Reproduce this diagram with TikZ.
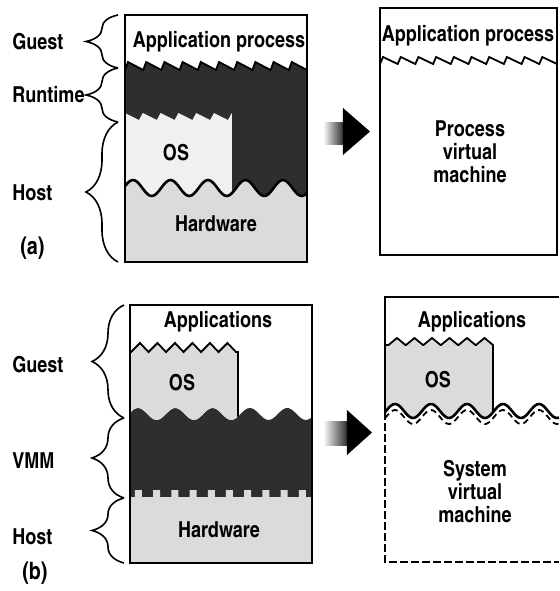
\documentclass[tikz,border=0pt]{standalone}
\usepackage{fontspec}
\setmainfont{texgyreheroscn}[Extension=.otf, UprightFont=*-regular, BoldFont=*-bold,
  ItalicFont=*-italic, BoldItalicFont=*-bolditalic]
\usepackage{tikz}
\usetikzlibrary{decorations.pathreplacing}

\colorlet{vmdark}{black!82}
\colorlet{vmlight}{black!14}
\colorlet{vmpale}{black!6}

\begin{document}
\begin{tikzpicture}[x=0.5pt, y=-0.5pt,
  font=\bfseries\fontsize{11}{11.5}\selectfont,
  declare function={wa(\x)=188-8*cos(9.6*(\x-133));
    wb(\x)=414-6*cos(9.65*(\x-138));
    wc(\x)=411-7*cos(10*(\x-395));},
  layer/.style={align=center, inner sep=1pt},
  side/.style={anchor=west, inner sep=0pt},
  tag/.style={side, font=\bfseries\fontsize{12}{14}\selectfont},
  brc/.style={decorate, decoration={brace, amplitude=16pt}, line width=0.8pt},
  frame/.style={line width=1pt},
  wave/.style={line width=1.3pt},
  teeth/.style={line width=0.9pt}
]
  \useasboundingbox (0,0) rectangle (559,591);

  % (a) process virtual machine
  \fill[vmdark] (125,70) \foreach \i in {0,...,9} { -- ++(3,-8) -- ++(15.2,8) }
    -- plot[domain=307:125, samples=80] (\x,{wa(\x)}) -- cycle;
  \fill[vmlight] plot[domain=125:307, samples=80] (\x,{wa(\x)})
    -- (307,262) -- (125,262) -- cycle;
  \fill[vmpale] (125,113) \foreach \i in {0,...,5} { -- ++(14,7) -- ++(3.8,-7) }
    -- (232,{wa(232)}) -- plot[domain=232:125, samples=50] (\x,{wa(\x)}) -- cycle;
  \draw[teeth] (125,70) \foreach \i in {0,...,9} { -- ++(3,-8) -- ++(15.2,8) };
  \draw[wave] plot[domain=125:307, samples=80] (\x,{wa(\x)});
  \draw[frame] (125,15) rectangle (307,262);
  \node[layer] (appa) at (219,42) {Application process};
  \node[layer] (osa) at (176,153) {OS};
  \node[layer] (hwa) at (216,224) {Hardware};

  \node[side] (guesta) at (12,42) {Guest};
  \node[side] (runtime) at (12,95) {Runtime};
  \node[side] (hosta) at (12,193) {Host};
  \node[tag] (taga) at (20,248) {(a)};
  \draw[brc] (118,68) -- (118,15);
  \draw[brc] (118,122) -- (118,68);
  \draw[brc] (118,262) -- (118,122);

  \shade[left color=white, right color=black!85] (323,122) rectangle (344,144);
  \fill (343,108) -- (370,131.5) -- (343,155) -- cycle;

  \draw[frame] (380,8) rectangle (557,255);
  \draw[teeth] (380,64) \foreach \i in {0,...,9} { -- ++(3,-7) -- ++(14.7,7) };
  \node[layer] (appa2) at (468,36) {Application process};
  \node[layer] (pvm) at (470,152) {Process\\virtual\\machine};

  % (b) system virtual machine
  \fill[vmdark] plot[domain=130:312, samples=80] (\x,{wb(\x)})
    -- (312,497) -- (130,497) -- cycle;
  \fill[vmlight] (130,497) \foreach \i in {0,...,9} {
      -- ({135+18.2*\i},497) -- ({135+18.2*\i},490)
      -- ({142+18.2*\i},490) -- ({142+18.2*\i},497) }
    -- (312,497) -- (312,563) -- (130,563) -- cycle;
  \fill[vmlight] (130,352) \foreach \i in {0,...,5} {
      -- ({131+17.5*\i},352) -- ({140+17.5*\i},343) -- ({148.5+17.5*\i},352) }
    -- (238,352) -- (238,{wb(238)})
    -- plot[domain=238:130, samples=50] (\x,{wb(\x)}) -- cycle;
  \draw[teeth] (130,352) \foreach \i in {0,...,5} {
      -- ({131+17.5*\i},352) -- ({140+17.5*\i},343) -- ({148.5+17.5*\i},352) }
    -- (238,352) -- (238,{wb(238)});
  \draw[frame] (130,305) rectangle (312,563);
  \node[layer] (appb) at (218,322) {Applications};
  \node[layer] (osb) at (182,383) {OS};
  \node[layer] (hwb) at (219,530) {Hardware};

  \node[side] (guestb) at (12,365) {Guest};
  \node[side] (vmm) at (12,461) {VMM};
  \node[side] (hostb) at (12,537) {Host};
  \node[tag] (tagb) at (22,573) {(b)};
  \draw[brc] (124,418) -- (124,305);
  \draw[brc] (124,498) -- (124,418);
  \draw[brc] (124,563) -- (124,498);

  \shade[left color=white, right color=black!85] (323,421) rectangle (348,445);
  \fill (347,410) -- (372,432.5) -- (347,455) -- cycle;

  \fill[vmlight] (385,345) \foreach \i in {0,...,5} {
      -- ({388.5+17.5*\i},345) -- ({397+17.5*\i},338) -- ({405.5+17.5*\i},345) }
    -- (493,{wc(493)}) -- plot[domain=493:385, samples=50] (\x,{wc(\x)}) -- cycle;
  \draw[teeth] (385,345) \foreach \i in {0,...,5} {
      -- ({388.5+17.5*\i},345) -- ({397+17.5*\i},338) -- ({405.5+17.5*\i},345) }
    -- (493,{wc(493)});
  \draw[wave] plot[domain=385:559, samples=90] (\x,{wc(\x)});
  \draw[line width=0.9pt, dash pattern=on 3pt off 2pt]
    plot[domain=385:559, samples=90] (\x,{wc(\x)+6});
  \draw[frame] (559,297) -- (385,297) -- (385,{wc(385)});
  \draw[frame, dash pattern=on 4pt off 1.5pt] (385,{wc(385)}) -- (385,562) -- (559,562);
  \node[layer] (appb2) at (472,322) {Applications};
  \node[layer] (osb2) at (438,380) {OS};
  \node[layer] (svm) at (475,492) {System\\virtual\\machine};
\end{tikzpicture}
\end{document}
